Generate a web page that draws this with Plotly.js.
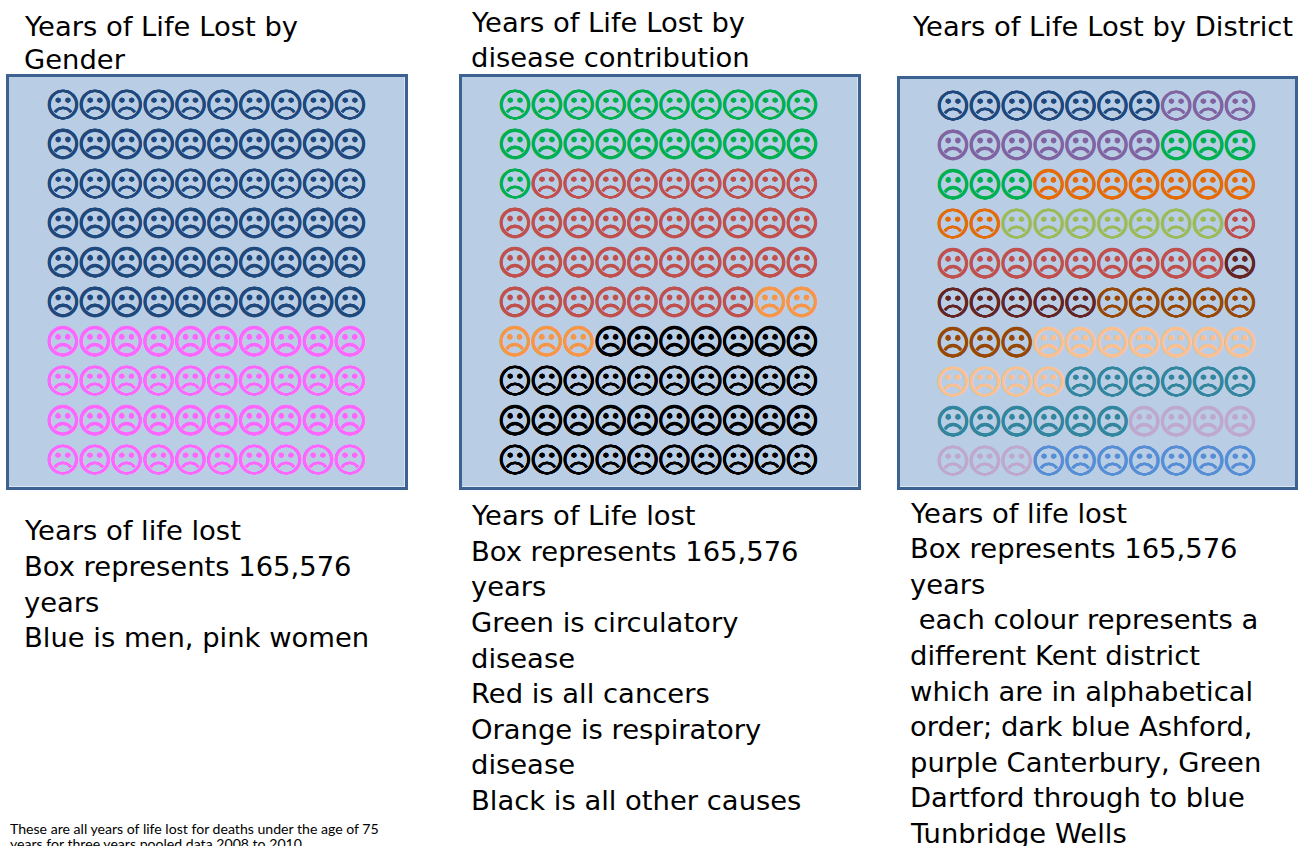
<!DOCTYPE html>
<html><head><meta charset="utf-8">
<script src="https://cdn.plot.ly/plotly-3.0.1.min.js"></script>
<style>html,body{margin:0;padding:0;background:#fff;overflow:hidden}#c{width:1305px;height:846px}</style>
</head><body><div id="c"></div>
<script>
const W = 1305, H = 846;
const genderNames = ["Men", "Women"];
const genderCounts = [60, 40];
const genderColors = ["#1f497d", "#ff66ff"];
const diseaseNames = ["Circulatory", "Cancers", "Respiratory", "Other"];
const diseaseCounts = [21, 37, 5, 37];
const diseaseColors = ["#00b050", "#c0504d", "#f79646", "#000000"];
const districtNames = ["Ashford", "Canterbury", "Dartford", "Dover", "Gravesham", "Maidstone", "Medway", "Sevenoaks", "Shepway", "Swale", "Thanet", "Tunbridge Wells"];
const districtCounts = [7, 10, 6, 9, 7, 10, 6, 8, 11, 12, 7, 7];
const districtColors = ["#1f497d", "#8064a2", "#00b050", "#e36c09", "#9bbb59", "#c0504d", "#632423", "#974806", "#fac090", "#31859c", "#bfa8cc", "#558ed5"];

const panels = [
  {names: genderNames, counts: genderCounts, colors: genderColors, box: [8.5, 404.5, 76.5, 486.5], first: [63, 108.5], last: [350, 463.5]},
  {names: diseaseNames, counts: diseaseCounts, colors: diseaseColors, box: [461.5, 857.5, 76.5, 486.5], first: [515, 108.5], last: [802, 463.5]},
  {names: districtNames, counts: districtCounts, colors: districtColors, box: [899.5, 1295, 78.5, 486.5], first: [953, 109.3], last: [1240, 464.5]}
];

const titleLines = [
  ["Years of Life Lost by", 23, 26], ["Gender", 23, 60],
  ["Years of Life Lost by", 470, 22], ["disease contribution", 470, 57],
  ["Years of Life Lost by District", 911, 27]
];
const bodyLines = [
  ["Years of life lost", 23, 530], ["Box represents 165,576", 23, 566], ["years", 23, 602], ["Blue is men, pink women", 23, 637],
  ["Years of Life lost", 470, 515], ["Box represents 165,576", 470, 551], ["years", 470, 586], ["Green is circulatory", 470, 622], ["disease", 470, 658], ["Red is all cancers", 470, 693], ["Orange is respiratory", 470, 729], ["disease", 470, 764], ["Black is all other causes", 470, 800],
  ["Years of life lost", 909, 513], ["Box represents 165,576", 909, 548], ["years", 909, 584], [" each colour represents a", 909, 619], ["different Kent district", 909, 655], ["which are in alphabetical", 909, 691], ["order; dark blue Ashford,", 909, 726], ["purple Canterbury, Green", 909, 762], ["Dartford through to blue", 909, 797], ["Tunbridge Wells", 909, 833]
];
const noteLines = [
  ["These are all years of life lost for deaths under the age of 75", 9, 828],
  ["years for three years pooled data 2008 to 2010", 9, 843]
];

const traces = [];
const layout = {
  width: W, height: H, margin: {l: 0, r: 0, t: 0, b: 0},
  paper_bgcolor: "#ffffff", plot_bgcolor: "#b9cde5", showlegend: false,
  annotations: []
};
function thicken(c) {
  const o = 0.3;
  return [[o, 0], [-o, 0], [0, o], [0, -o]].map(([a, b]) => a + "px " + b + "px 0 " + c).join(",");
}
panels.forEach((p, i) => {
  const s = i ? String(i + 1) : "";
  const [x0, x1, y0, y1] = p.box;
  const dx = (p.last[0] - p.first[0]) / 9, dy = (p.last[1] - p.first[1]) / 9;
  const axis = {showgrid: false, zeroline: false, showticklabels: false, ticks: "", showline: true, mirror: true, linecolor: "#3c6291", linewidth: 3, fixedrange: true};
  layout["xaxis" + s] = Object.assign({}, axis, {
    domain: [x0 / W, x1 / W], anchor: "y" + s,
    range: [1 + (x0 - p.first[0]) / dx, 1 + (x1 - p.first[0]) / dx]
  });
  layout["yaxis" + s] = Object.assign({}, axis, {
    domain: [1 - y1 / H, 1 - y0 / H], anchor: "x" + s,
    range: [1 + (y1 - p.first[1]) / dy, 1 + (y0 - p.first[1]) / dy]
  });
  let k = 0;
  p.counts.forEach((n, g) => {
    const xs = [], ys = [];
    for (let j = 0; j < n; j++, k++) { xs.push(k % 10 + 1); ys.push(Math.floor(k / 10) + 1); }
    traces.push({
      type: "scatter", mode: "text", name: p.names[g], xaxis: "x" + s, yaxis: "y" + s,
      x: xs, y: ys, text: xs.map(() => "\u2639"), textposition: "middle center",
      textfont: {family: "DejaVu Sans", size: 34, color: p.colors[g], shadow: thicken(p.colors[g])}, hoverinfo: "name"
    });
  });
});
function addLines(lines, family, size) {
  lines.forEach(([t, x, y]) => layout.annotations.push({
    text: t.replace(/^ /, "\u00a0"), xref: "paper", yref: "paper", x: x / W, y: 1 - y / H,
    xanchor: "left", yanchor: "middle", showarrow: false, borderpad: 0,
    font: {family: family, size: size, color: "#000000"}
  }));
}
addLines(titleLines, "DejaVu Sans", 27.4);
addLines(bodyLines, "DejaVu Sans", 27.4);
addLines(noteLines, "Lato", 14.1);
Plotly.newPlot("c", traces, layout, {displayModeBar: false, staticPlot: true});
</script></body></html>
